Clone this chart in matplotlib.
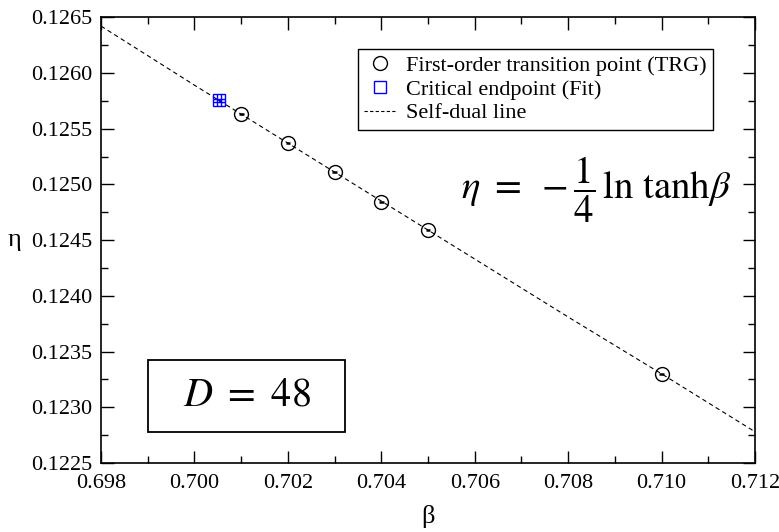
import numpy as np
import matplotlib.pyplot as plt
from matplotlib.lines import Line2D
from matplotlib.patches import Rectangle
from matplotlib.ticker import MultipleLocator, FormatStrFormatter

plt.rcParams['font.family'] = ['Liberation Serif', 'DejaVu Serif']
plt.rcParams['mathtext.fontset'] = 'stix'

# First-order transition points (TRG)
beta_trg = [0.701, 0.702, 0.703, 0.704, 0.705, 0.710]
eta_trg = [0.12563, 0.12537, 0.12511, 0.12484, 0.12459, 0.12330]
beta_trg_err = [0.00005, 0.00005, 0.00005, 0.00005, 0.00005, 0.00005]

# Critical endpoint (fit)
beta_cep = [0.70052]
eta_cep = [0.125755]
beta_cep_err = [0.00004]
eta_cep_err = [0.000012]

# Self-dual line eta = -1/4 ln tanh(beta)
beta_line = [0.698, 0.700, 0.702, 0.704, 0.706, 0.708, 0.710, 0.712]
eta_line = [0.12642, 0.12589, 0.12537, 0.12485, 0.12433, 0.12381, 0.12330, 0.12278]

fig = plt.figure(figsize=(7.79, 5.32), dpi=100)
ax = fig.add_axes([0.1297, 0.1297, 0.8395, 0.838])

ax.errorbar(beta_trg, eta_trg, xerr=beta_trg_err, fmt='o', mfc='none', mec='black',
            ms=10, mew=1.0, ecolor='black', elinewidth=1.8, capsize=0, zorder=3)
ax.errorbar(beta_cep, eta_cep, xerr=beta_cep_err, yerr=eta_cep_err, fmt='s', mfc='none',
            mec='blue', ms=8, mew=1.0, ecolor='blue', elinewidth=0.7, capsize=4, zorder=3)
ax.plot(beta_line, eta_line, ls=(0, (4, 3)), color='black', lw=0.8, zorder=2)

ax.set_xlim(0.698, 0.712)
ax.set_ylim(0.1225, 0.1265)
ax.xaxis.set_major_locator(MultipleLocator(0.002))
ax.xaxis.set_minor_locator(MultipleLocator(0.001))
ax.yaxis.set_major_locator(MultipleLocator(0.0005))
ax.yaxis.set_minor_locator(MultipleLocator(0.00025))
ax.xaxis.set_major_formatter(FormatStrFormatter('%.3f'))
ax.yaxis.set_major_formatter(FormatStrFormatter('%.4f'))
ax.tick_params(which='both', direction='in', top=True, right=True, labelsize=16, width=1.0)
ax.tick_params(which='major', length=9)
ax.tick_params(axis='x', which='major', pad=8)
ax.tick_params(axis='y', which='major', pad=6)
ax.tick_params(which='minor', length=5)
for s in ax.spines.values():
    s.set_linewidth(1.2)

ax.set_xlabel('β', fontsize=19, va='center')
ax.set_ylabel('η', fontsize=19, rotation=0, va='center', ha='center')
ax.xaxis.set_label_coords(0.5, -0.121)
ax.yaxis.set_label_coords(-0.133, 0.5)

handles = [
    Line2D([], [], ls='none', marker='o', mfc='none', mec='black', ms=10, mew=1.0),
    Line2D([], [], ls='none', marker='s', mfc='none', mec='blue', ms=8, mew=1.0),
    Line2D([], [], ls=(0, (3, 2)), color='black', lw=0.8),
]
labels = ['First-order transition point (TRG)', 'Critical endpoint (Fit)', 'Self-dual line']
leg = ax.legend(handles, labels, loc='upper right', bbox_to_anchor=(0.936, 0.928), fontsize=16,
                frameon=True, fancybox=False, edgecolor='black', framealpha=1, handlelength=1.4,
                handletextpad=0.5, labelspacing=0.14, borderpad=0.28, borderaxespad=0)
leg.get_frame().set_linewidth(1.0)

ax.text(0.757, 0.612, r'$\eta\ =\ -\dfrac{1}{4}\,\mathrm{ln}\ \mathrm{tanh}\beta$', transform=ax.transAxes,
        fontsize=28, ha='center', va='center')

ax.add_patch(Rectangle((0.0719, 0.0695), 0.301, 0.161, transform=ax.transAxes,
                       fc='white', ec='black', lw=1.3, zorder=4))
ax.text(0.2225, 0.150, r'$D\ =\ 48$', transform=ax.transAxes, fontsize=29, ha='center', va='center',
        zorder=5)

fig.savefig('out.png', dpi=100)
